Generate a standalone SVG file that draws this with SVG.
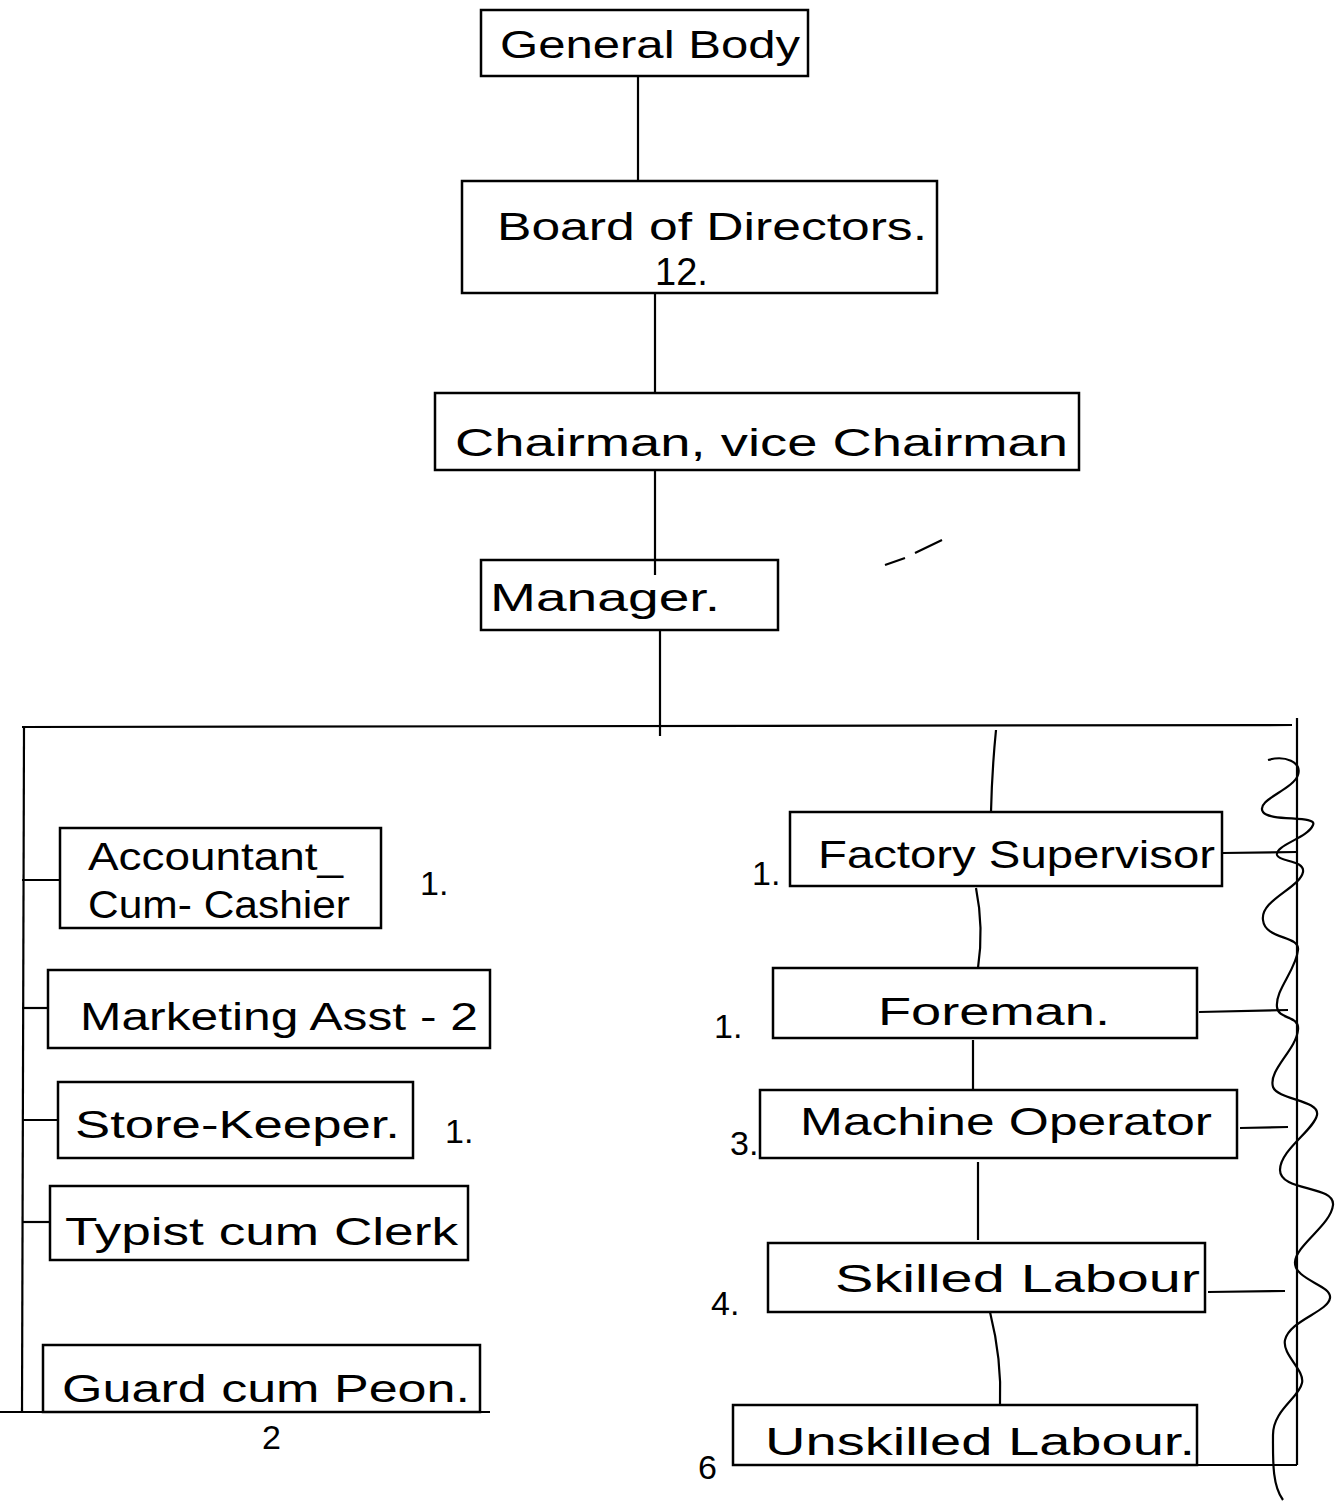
<svg xmlns="http://www.w3.org/2000/svg" width="1340" height="1503" viewBox="0 0 1340 1503">
<style>
.box{fill:none;stroke:#000;stroke-width:2.5}
.ln{fill:none;stroke:#000;stroke-width:2.2}
.t{font-family:"Liberation Sans","DejaVu Sans",sans-serif;fill:#000;font-size:38px}
.n{font-family:"Liberation Sans","DejaVu Sans",sans-serif;fill:#000;font-size:34px}
</style>
<rect width="1340" height="1503" fill="#fff"/>
<g id="connectors">
<path class="ln" d="M638 76 L638 181"/>
<path class="ln" d="M655 293 L655 393"/>
<path class="ln" d="M655 470 L655 575"/>
<path class="ln" d="M660 630 L660 736"/>
<path class="ln" d="M22 727 L1292 725"/>
<path class="ln" d="M24 728 L22 1412"/>
<path class="ln" d="M1297 718 L1297 1465"/>
<path class="ln" d="M0 1412 L490 1412"/>
<path class="ln" d="M733 1465 L1297 1465"/>
<path class="ln" d="M22 880 L60 880"/>
<path class="ln" d="M22 1008 L48 1008"/>
<path class="ln" d="M22 1120 L58 1120"/>
<path class="ln" d="M22 1222 L50 1222"/>
<path class="ln" d="M996 730 Q992 770 991 812"/>
<path class="ln" d="M976 888 Q984 928 978 968"/>
<path class="ln" d="M973 1040 L973 1090"/>
<path class="ln" d="M978 1162 L978 1240"/>
<path class="ln" d="M990 1312 Q1002 1360 1000 1405"/>
<path class="ln" d="M1222 853 L1297 852"/>
<path class="ln" d="M1199 1012 L1288 1010"/>
<path class="ln" d="M1240 1128 L1288 1127"/>
<path class="ln" d="M1208 1292 L1285 1291"/>
<path class="ln" d="M1268 760 C1285 755 1302 762 1298 775 C1293 790 1255 800 1263 812 C1270 822 1318 815 1313 825 C1308 838 1275 845 1277 855 C1279 862 1305 860 1303 872 C1300 888 1260 900 1263 920 C1265 940 1300 935 1298 950 C1296 970 1275 990 1277 1007 C1278 1020 1300 1015 1298 1030 C1296 1050 1268 1070 1273 1087 C1278 1100 1320 1100 1317 1115 C1314 1130 1280 1150 1280 1170 C1280 1192 1335 1185 1333 1205 C1331 1225 1296 1245 1295 1262 C1294 1280 1332 1285 1330 1298 C1328 1312 1290 1320 1285 1340 C1282 1355 1305 1370 1302 1383 C1299 1398 1273 1410 1273 1435 C1273 1460 1272 1485 1283 1500"/>
<path class="ln" d="M885 565 L905 558 M915 553 L942 540" stroke-width="1.5"/>
</g>
<g id="general-body"><rect class="box" x="481" y="10" width="327" height="66"/><text class="t" x="500" y="58" font-size="40" textLength="300" lengthAdjust="spacingAndGlyphs">General Body</text></g>
<g id="board"><rect class="box" x="462" y="181" width="475" height="112"/><text class="t" x="497" y="240" font-size="40" textLength="430" lengthAdjust="spacingAndGlyphs">Board of Directors.</text><text class="t" x="655" y="285" font-size="34">12.</text></g>
<g id="chairman"><rect class="box" x="435" y="393" width="644" height="77"/><text class="t" x="455" y="456" font-size="44" textLength="613" lengthAdjust="spacingAndGlyphs">Chairman, vice Chairman</text></g>
<g id="manager"><rect class="box" x="481" y="560" width="297" height="70"/><text class="t" x="490" y="611" font-size="44" textLength="230" lengthAdjust="spacingAndGlyphs">Manager.</text></g>
<g id="accountant"><rect class="box" x="60" y="828" width="321" height="100"/><text class="t" x="88" y="870" font-size="34" textLength="255" lengthAdjust="spacingAndGlyphs">Accountant_</text><text class="t" x="88" y="918" font-size="34" textLength="262" lengthAdjust="spacingAndGlyphs">Cum- Cashier</text><text class="n" x="420" y="895">1.</text></g>
<g id="marketing"><rect class="box" x="48" y="970" width="442" height="78"/><text class="t" x="80" y="1030" textLength="398" lengthAdjust="spacingAndGlyphs">Marketing Asst - 2</text></g>
<g id="storekeeper"><rect class="box" x="58" y="1082" width="355" height="76"/><text class="t" x="75" y="1138" textLength="325" lengthAdjust="spacingAndGlyphs">Store-Keeper.</text><text class="n" x="445" y="1143">1.</text></g>
<g id="typist"><rect class="box" x="50" y="1186" width="418" height="74"/><text class="t" x="65" y="1245" textLength="393" lengthAdjust="spacingAndGlyphs">Typist cum Clerk</text></g>
<g id="guard"><rect class="box" x="43" y="1345" width="437" height="67"/><text class="t" x="62" y="1402" font-size="40" textLength="408" lengthAdjust="spacingAndGlyphs">Guard cum Peon.</text><text class="n" x="262" y="1449" font-size="26">2</text></g>
<g id="factory-supervisor"><rect class="box" x="790" y="812" width="432" height="74"/><text class="t" x="818" y="868" textLength="397" lengthAdjust="spacingAndGlyphs">Factory Supervisor</text><text class="n" x="752" y="885">1.</text></g>
<g id="foreman"><rect class="box" x="773" y="968" width="424" height="70"/><text class="t" x="878" y="1025" font-size="40" textLength="232" lengthAdjust="spacingAndGlyphs">Foreman.</text><text class="n" x="714" y="1038">1.</text></g>
<g id="machine-operator"><rect class="box" x="760" y="1090" width="477" height="68"/><text class="t" x="800" y="1135" textLength="412" lengthAdjust="spacingAndGlyphs">Machine Operator</text><text class="n" x="730" y="1155">3.</text></g>
<g id="skilled"><rect class="box" x="768" y="1243" width="437" height="69"/><text class="t" x="835" y="1292" font-size="40" textLength="365" lengthAdjust="spacingAndGlyphs">Skilled Labour</text><text class="n" x="711" y="1315">4.</text></g>
<g id="unskilled"><rect class="box" x="733" y="1405" width="464" height="60"/><text class="t" x="765" y="1455" textLength="430" lengthAdjust="spacingAndGlyphs">Unskilled Labour.</text><text class="n" x="698" y="1479" font-size="30">6</text></g>
</svg>
